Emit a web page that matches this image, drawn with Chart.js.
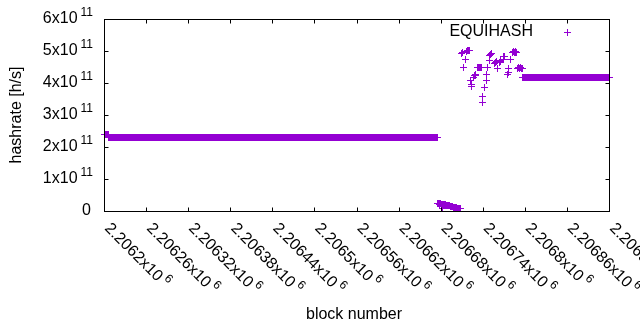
<!DOCTYPE html>
<html lang="en">
  <head>
    <meta charset="UTF-8" />
    <title>EQUIHASH hashrate</title>
    <style>
      html,
      body {
        margin: 0;
        padding: 0;
        background: #fff;
      }
      #wrap {
        width: 640px;
        height: 330px;
      }
    </style>
  </head>
  <body>
    <div id="wrap"><canvas id="hashChart" width="640" height="330"></canvas></div>

    <script src="https://cdn.jsdelivr.net/npm/chart.js@4/dist/chart.umd.min.js"></script>
    <script>
      // flat stretches: one point per block, all with the same value
      const runStart = [2206200, 2206207, 2206797];
      const runEnd = [2206206, 2206675, 2206920];
      const runValue = [2.4e11, 2.3e11, 4.18e11];

      // low cluster right after the first plateau
      const lowBlocks = [
        2206676, 2206677, 2206678, 2206679, 2206680, 2206681, 2206682, 2206682,
        2206683, 2206684, 2206685, 2206686, 2206687, 2206688, 2206689, 2206690,
        2206691, 2206692, 2206693, 2206694, 2206695, 2206696, 2206697, 2206698,
        2206699, 2206700, 2206701, 2206702, 2206703, 2206704, 2206705, 2206706,
        2206707, 2206708,
      ];
      const lowValues = [
        0.22e11, 0.25e11, 0.22e11, 0.21e11, 0.22e11, 0.21e11, 0.2e11, 0.07e11,
        0.21e11, 0.2e11, 0.2e11, 0.19e11, 0.2e11, 0.18e11, 0.18e11, 0.17e11,
        0.17e11, 0.16e11, 0.16e11, 0.15e11, 0.15e11, 0.14e11, 0.13e11, 0.12e11,
        0.12e11, 0.11e11, 0.1e11, 0.1e11, 0.09e11, 0.09e11, 0.08e11, 0.08e11,
        0.07e11, 0.07e11,
      ];

      // the noisy part before the second plateau
      const scatBlocks = [
        2206709, 2206711, 2206713, 2206715, 2206717, 2206718, 2206719, 2206720,
        2206721, 2206723, 2206724, 2206724, 2206727, 2206728, 2206729, 2206730,
        2206733, 2206734, 2206735, 2206736, 2206737, 2206738, 2206739, 2206740,
        2206742, 2206745, 2206746, 2206747, 2206749, 2206750, 2206751, 2206752,
        2206753, 2206757, 2206758, 2206759, 2206761, 2206764, 2206765, 2206766,
        2206769, 2206770, 2206771, 2206775, 2206776, 2206776, 2206780, 2206783,
        2206784, 2206785, 2206786, 2206787, 2206788, 2206790, 2206791, 2206792,
        2206793, 2206794, 2206795, 2206796,
      ];
      const scatValues = [
        4.93e11, 4.96e11, 4.49e11, 4.73e11, 5.0e11, 5.01e11, 5.02e11, 5.01e11,
        5.02e11, 4.09e11, 3.95e11, 3.88e11, 4.18e11, 4.22e11, 4.25e11, 4.27e11,
        4.49e11, 4.5e11, 4.49e11, 4.49e11, 4.5e11, 4.49e11, 3.38e11, 3.59e11,
        3.87e11, 4.09e11, 4.28e11, 4.49e11, 4.7e11, 4.85e11, 4.88e11, 4.91e11,
        4.93e11, 4.6e11, 4.63e11, 4.66e11, 4.46e11, 4.64e11, 4.67e11, 4.7e11,
        4.74e11, 4.84e11, 4.82e11, 4.28e11, 4.33e11, 4.46e11, 4.74e11, 4.96e11,
        4.97e11, 4.96e11, 4.96e11, 4.97e11, 4.96e11, 4.46e11, 4.47e11, 4.46e11,
        4.46e11, 4.47e11, 4.46e11, 4.46e11,
      ];

      const xTicks = [
        2206200, 2206260, 2206320, 2206380, 2206440, 2206500, 2206560, 2206620,
        2206680, 2206740, 2206800, 2206860, 2206920,
      ];
      const xTickText = [
        "2.2062", "2.20626", "2.20632", "2.20638", "2.20644", "2.2065", "2.20656",
        "2.20662", "2.20668", "2.20674", "2.2068", "2.20686", "2.20692",
      ];
      const yTicks = [0, 1e11, 2e11, 3e11, 4e11, 5e11, 6e11];
      const yTickText = ["0", "1", "2", "3", "4", "5", "6"];

      const FONT = '"Liberation Sans", Arial, sans-serif';
      const PURPLE = "#9400d3";

      const points = [];
      for (let i = 0; i < runStart.length; i++) {
        for (let b = runStart[i]; b <= runEnd[i]; b++) {
          points.push({ x: b, y: runValue[i] });
        }
      }
      lowBlocks.forEach((b, i) => points.push({ x: b, y: lowValues[i] }));
      scatBlocks.forEach((b, i) => points.push({ x: b, y: scatValues[i] }));

      // crisp 7x7 "+" like gnuplot's point type 1
      const plus = document.createElement("canvas");
      plus.width = 7;
      plus.height = 7;
      const pc = plus.getContext("2d");
      pc.fillStyle = PURPLE;
      pc.fillRect(0, 3, 7, 1);
      pc.fillRect(3, 0, 1, 7);

      // gnuplot look: box border, inward ticks, superscript labels, key
      const gnuplotFrame = {
        id: "gnuplotFrame",
        beforeDatasetsDraw(chart) {
          chart.ctx.imageSmoothingEnabled = false;
        },
        afterDatasetsDraw(chart) {
          chart.ctx.imageSmoothingEnabled = true;
        },
        afterDraw(chart) {
          const { ctx, chartArea: a, scales } = chart;
          const L = a.left + 0.5,
            R = a.right + 0.5,
            T = a.top + 0.5,
            B = a.bottom + 0.5;
          ctx.save();
          ctx.strokeStyle = "#000";
          ctx.lineWidth = 1;
          ctx.strokeRect(L, T, R - L, B - T);

          ctx.beginPath();
          xTicks.forEach((v) => {
            const px = Math.round(scales.x.getPixelForValue(v)) + 0.5;
            ctx.moveTo(px, B);
            ctx.lineTo(px, B - 4);
            ctx.moveTo(px, T);
            ctx.lineTo(px, T + 4);
          });
          yTicks.forEach((v) => {
            const py = Math.round(scales.y.getPixelForValue(v)) + 0.5;
            ctx.moveTo(L, py);
            ctx.lineTo(L + 4, py);
            ctx.moveTo(R, py);
            ctx.lineTo(R - 4, py);
          });
          ctx.stroke();

          ctx.fillStyle = "#000";
          ctx.textBaseline = "middle";

          // y tick labels
          yTicks.forEach((v, i) => {
            const py = scales.y.getPixelForValue(v);
            ctx.textAlign = "left";
            if (v === 0) {
              ctx.font = "16px " + FONT;
              const w = ctx.measureText("0").width;
              ctx.fillText("0", 91 - w, py);
              return;
            }
            const main = yTickText[i] + "x10";
            ctx.font = "16px " + FONT;
            const mw = ctx.measureText(main).width;
            ctx.font = "12px " + FONT;
            const sw = ctx.measureText("11").width;
            const x0 = 93 - sw - 3 - mw;
            ctx.font = "16px " + FONT;
            ctx.fillText(main, x0, py);
            ctx.font = "12px " + FONT;
            ctx.fillText("11", x0 + mw + 3, py - 6);
          });

          // x tick labels, rotated
          xTicks.forEach((v, i) => {
            const px = scales.x.getPixelForValue(v);
            ctx.save();
            ctx.translate(px + 3, a.bottom + 15);
            ctx.rotate(Math.PI / 4);
            ctx.textAlign = "left";
            const main = xTickText[i] + "x10";
            ctx.font = "16px " + FONT;
            ctx.fillText(main, 0, 0);
            const mw = ctx.measureText(main).width;
            ctx.font = "12px " + FONT;
            ctx.fillText("6", mw + 3, -6);
            ctx.restore();
          });

          // axis titles
          ctx.font = "16px " + FONT;
          ctx.textAlign = "center";
          ctx.fillText("block number", 354, 315);
          ctx.save();
          ctx.translate(17, 115);
          ctx.rotate(-Math.PI / 2);
          ctx.fillText("hashrate [h/s]", 0, 0);
          ctx.restore();

          // key
          ctx.textAlign = "right";
          ctx.fillText("EQUIHASH", 533, 32);
          ctx.fillStyle = PURPLE;
          ctx.fillRect(564, 32, 7, 1);
          ctx.fillRect(567, 29, 1, 7);
          ctx.restore();
        },
      };

      new Chart(document.getElementById("hashChart"), {
        type: "scatter",
        data: {
          datasets: [
            {
              label: "EQUIHASH",
              data: points,
              pointStyle: plus,
              pointRadius: 3.5,
              borderWidth: 1,
              borderColor: PURPLE,
              backgroundColor: PURPLE,
              clip: false,
            },
          ],
        },
        options: {
          responsive: false,
          animation: false,
          events: [],
          layout: {
            autoPadding: false,
            padding: { top: 19, right: 31, left: 0, bottom: 0 },
          },
          plugins: {
            legend: { display: false },
            tooltip: { enabled: false },
          },
          scales: {
            x: {
              type: "linear",
              min: 2206200,
              max: 2206920,
              grid: { display: false },
              border: { display: false },
              ticks: { display: false },
              afterFit: (s) => {
                s.height = 119;
              },
            },
            y: {
              min: 0,
              max: 6e11,
              grid: { display: false },
              border: { display: false },
              ticks: { display: false },
              afterFit: (s) => {
                s.width = 104;
              },
            },
          },
        },
        plugins: [gnuplotFrame],
      });
    </script>
  </body>
</html>
